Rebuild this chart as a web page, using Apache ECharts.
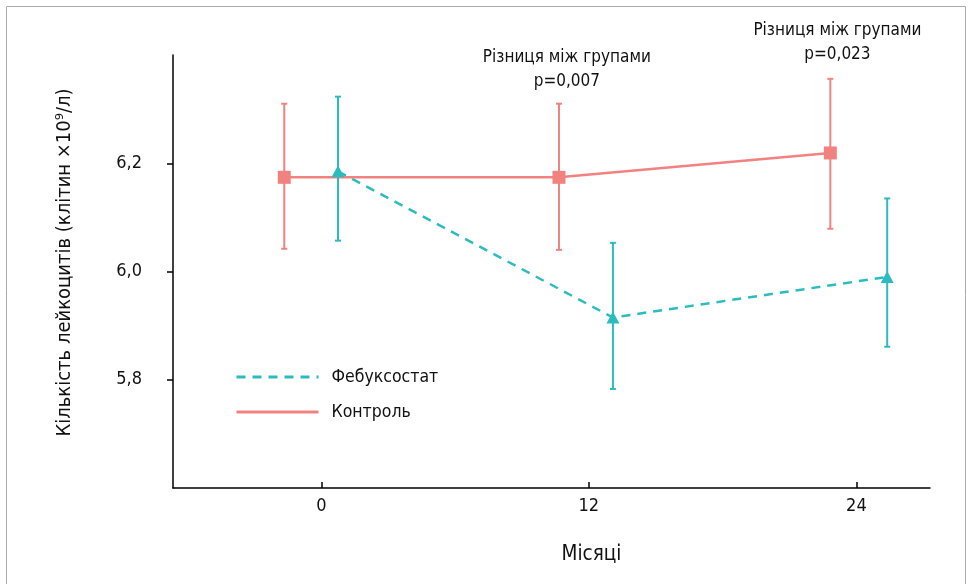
<!DOCTYPE html>
<html><head><meta charset="utf-8">
<script src="https://cdn.jsdelivr.net/npm/echarts@6/dist/echarts.min.js"></script>
<style>html,body{margin:0;padding:0;background:#fff}#c{width:972px;height:584px}</style>
</head><body><div id="c"></div>
<script>
const FONT = "'Liberation Sans Narrow','DejaVu Sans Condensed','Roboto',sans-serif";
const xTicks = [0, 12, 24];
const yTicks = [5.8, 6.0, 6.2];
const seriesNames = ['Фебуксостат', 'Контроль'];
// x positions (months, slightly offset per group as in the figure)
const febX = [0.75, 13.08, 25.38];
const febMean = [6.185, 5.915, 5.99];
const febLow = [6.057, 5.783, 5.861];
const febHigh = [6.323, 6.053, 6.135];
const ctrlX = [-1.66, 10.66, 22.83];
const ctrlMean = [6.174, 6.174, 6.219];
const ctrlLow = [6.042, 6.04, 6.079];
const ctrlHigh = [6.31, 6.31, 6.356];
const annotations = [
  {x: 12, text: 'Різниця між групами\np=0,007'},
  {x: 24, text: 'Різниця між групами\np=0,023'}
];
const TEAL = '#2BBCBF', SALMON = '#F2827F';

function pairs(xs, ys){ return xs.map((x,i)=>[x, ys[i]]); }
function errData(xs, lo, hi){ return xs.map((x,i)=>[x, lo[i], hi[i]]); }
function errSeries(data, color){
  return {
    type: 'custom', silent: true, z: 3,
    data: data,
    encode: {x: 0, y: [1,2]},
    renderItem: function(params, api){
      const x = api.value(0);
      const p1 = api.coord([x, api.value(1)]);
      const p2 = api.coord([x, api.value(2)]);
      const w = 3;
      const st = {stroke: color, lineWidth: 2};
      return {type: 'group', children: [
        {type:'line', shape:{x1:p1[0], y1:p1[1], x2:p2[0], y2:p2[1]}, style: st},
        {type:'line', shape:{x1:p1[0]-w, y1:p1[1], x2:p1[0]+w, y2:p1[1]}, style: st},
        {type:'line', shape:{x1:p2[0]-w, y1:p2[1], x2:p2[0]+w, y2:p2[1]}, style: st}
      ]};
    }
  };
}

const chart = echarts.init(document.getElementById('c'));
chart.setOption({
  animation: false,
  textStyle: {fontFamily: FONT},
  grid: {left: 173, right: 42, top: 55, bottom: 96},
  legend: {
    orient: 'vertical', left: 230, top: 363,
    itemWidth: 82, itemHeight: 18, itemGap: 17,
    data: seriesNames,
    itemStyle: {opacity: 0},
    lineStyle: {width: 3},
    textStyle: {fontFamily: FONT, fontSize: 17.5, color: '#111', padding: [0,0,0,8]}
  },
  xAxis: {
    type: 'value', min: -6.65, max: 27.3,
    name: 'Місяці', nameLocation: 'middle', nameGap: 56,
    nameTextStyle: {fontFamily: FONT, fontSize: 20.5, color: '#111', padding: [0,0,0,80]},
    axisLine: {show: true, onZero: false, lineStyle: {color: '#000', width: 1.5}},
    axisTick: {show: true, inside: true, length: 6, customValues: xTicks, lineStyle:{color:'#000', width:1.5}},
    axisLabel: {customValues: xTicks, fontFamily: FONT, fontSize: 18, color: '#111', margin: 9},
    splitLine: {show: false}
  },
  yAxis: {
    type: 'value', min: 5.6, max: 6.4,
    name: 'Кількість лейкоцитів (клітин ×10⁹/л)', nameLocation: 'middle', nameGap: 98,
    nameTextStyle: {fontFamily: FONT, fontSize: 20, color: '#111', padding: [0,0,0,18]},
    axisLine: {show: true, onZero: false, lineStyle: {color: '#000', width: 1.5}},
    axisTick: {show: true, length: 6, customValues: yTicks, lineStyle:{color:'#000', width:1.5}},
    axisLabel: {customValues: yTicks, fontFamily: FONT, fontSize: 18, color: '#111', margin: 31,
      formatter: v => v.toFixed(1).replace('.', ',')},
    splitLine: {show: false}
  },
  series: [
    {name: seriesNames[0], type: 'line', data: pairs(febX, febMean), symbol: 'none', z: 2,
      lineStyle: {color: TEAL, width: 2.5, type: [9, 7]}, itemStyle: {color: TEAL}},
    {name: seriesNames[1], type: 'line', data: pairs(ctrlX, ctrlMean), symbol: 'none', z: 2,
      lineStyle: {color: SALMON, width: 2.5}, itemStyle: {color: SALMON}},
    errSeries(errData(ctrlX, ctrlLow, ctrlHigh), SALMON),
    errSeries(errData(febX, febLow, febHigh), TEAL),
    {type: 'scatter', data: pairs(ctrlX, ctrlMean), symbol: 'rect', symbolSize: 13, z: 4,
      itemStyle: {color: SALMON, opacity: 1}, silent: true},
    {type: 'scatter', data: pairs(febX, febMean), symbol: 'triangle', symbolSize: [13, 12], z: 4,
      itemStyle: {color: TEAL, opacity: 1}, silent: true}
  ]
});
// annotations anchored to the x-axis month positions
const extra = annotations.map((a, i) => {
  const px = chart.convertToPixel({xAxisIndex: 0}, a.x) - (i === 0 ? 22 : 19);
  return {type: 'text', x: px, y: i === 0 ? 46 : 19,
    style: {text: a.text, fill: '#111', font: '17px ' + FONT, align: 'center', lineHeight: 24}};
});
chart.setOption({graphic: [
  {type: 'rect', shape: {x: 6.5, y: 6.5, width: 959, height: 590}, style: {fill: 'none', stroke: '#aaa', lineWidth: 1}, silent: true}
].concat(extra)});
</script></body></html>
